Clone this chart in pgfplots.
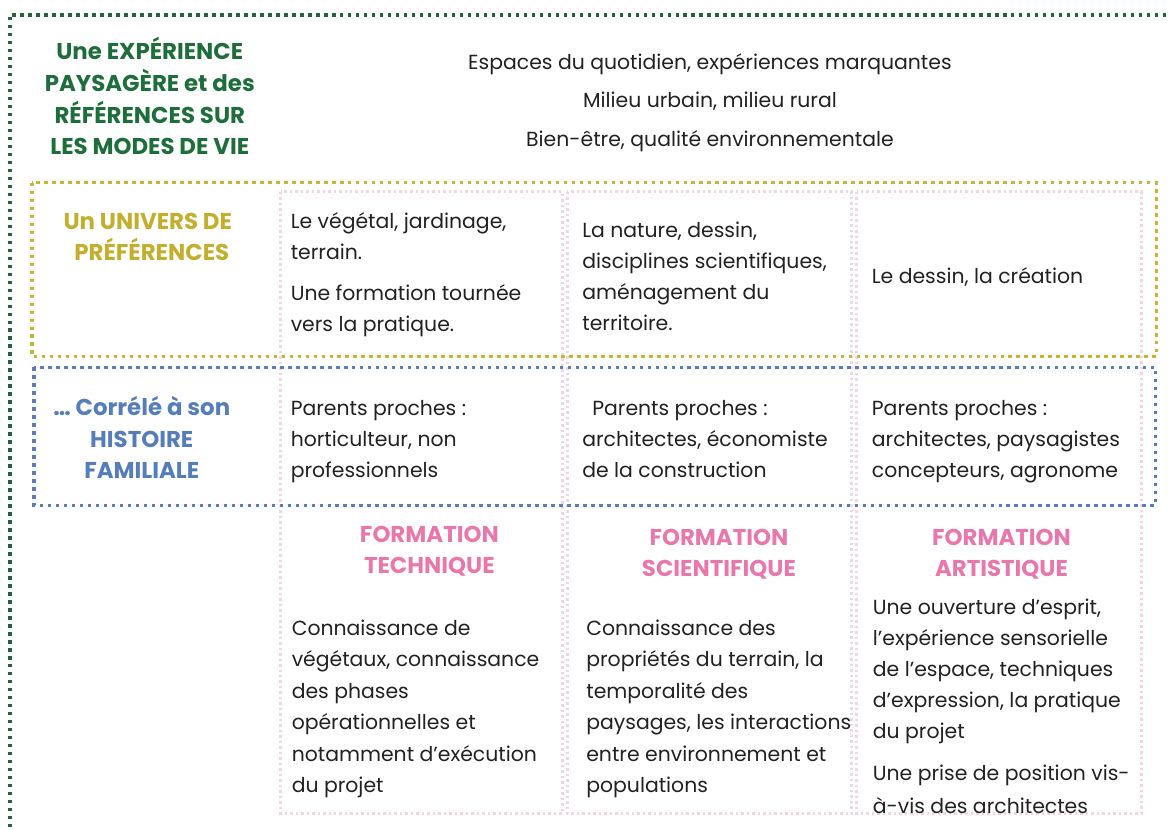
\documentclass[border=0pt]{standalone}
\usepackage{pgfplots}
\pgfplotsset{compat=1.18}
\usepackage{fontspec}
\setmainfont{Poppins}
\definecolor{gline}{RGB}{35,100,60}
\definecolor{gtext}{RGB}{30,110,60}
\definecolor{yline}{RGB}{200,180,55}
\definecolor{ytext}{RGB}{195,175,45}
\definecolor{bline}{RGB}{90,125,185}
\definecolor{btext}{RGB}{85,125,185}
\definecolor{pline}{RGB}{242,212,228}
\definecolor{ptext}{RGB}{232,120,172}
\definecolor{body}{RGB}{35,32,32}
\newcommand{\T}[3]{\node[anchor=mid west, inner sep=0pt, yshift=-4bp, text=body, font=\fontsize{20.5}{24}\selectfont] at (axis cs:#1,#2) {#3};}
\newcommand{\C}[4]{\node[anchor=mid, inner sep=0pt, yshift=-4bp, text=#4, font=\fontsize{20.5}{24}\selectfont] at (axis cs:#1,#2) {#3};}
\newcommand{\B}[4]{\node[anchor=mid, inner sep=0pt, yshift=-5bp, text=#4, font=\fontsize{23}{27}\selectfont\bfseries] at (axis cs:#1,#2) {#3};}
\begin{document}
\begin{tikzpicture}
\begin{axis}[
  width=1168bp, height=829bp, scale only axis,
  xmin=0, xmax=1168, ymin=0, ymax=829, y dir=reverse,
  hide axis, clip=false]
\path (axis cs:0,0) rectangle (axis cs:1168,829);
% pink columns
\begin{scope}[pline, line width=3bp, dash pattern=on 2.5bp off 3bp]
\draw (axis cs:281,192) rectangle (axis cs:563,815);
\draw (axis cs:568,192) rectangle (axis cs:853,815);
\draw (axis cs:858,192) rectangle (axis cs:1143,815);
\end{scope}
% green frame
\draw[gline, line width=3.5bp, dash pattern=on 3.5bp off 4.5bp] (axis cs:1168,15) -- (axis cs:10,15) -- (axis cs:10,829);
% yellow frame
\draw[yline, line width=3.5bp, dash pattern=on 3.5bp off 4.5bp] (axis cs:32,183) rectangle (axis cs:1158,357);
% blue frame
\draw[bline, line width=3.5bp, dash pattern=on 3.5bp off 4.5bp] (axis cs:34,368) rectangle (axis cs:1157,506);
% green title
\B{150}{52}{Une EXPÉRIENCE}{gtext}
\B{150}{84}{PAYSAGÈRE et des}{gtext}
\B{150}{116}{RÉFÉRENCES SUR}{gtext}
\B{150}{147}{LES MODES DE VIE}{gtext}
% header
\C{711}{63}{Espaces du quotidien, expériences marquantes}{body}
\C{711}{101}{Milieu urbain, milieu rural}{body}
\C{711}{140}{Bien-être, qualité environnementale}{body}
% yellow title
\B{148}{222}{Un UNIVERS DE}{ytext}
\B{152}{253}{PRÉFÉRENCES}{ytext}
% row 1
\T{291}{222}{Le végétal, jardinage,}
\T{291}{253}{terrain.}
\T{291}{294}{Une formation tournée}
\T{291}{325}{vers la pratique.}
\T{583}{231}{La nature, dessin,}
\T{583}{262}{disciplines scientifiques,}
\T{583}{293}{aménagement du}
\T{583}{324}{territoire.}
\T{873}{277}{Le dessin, la création}
% blue title
\B{142}{408}{… Corrélé à son}{btext}
\B{142}{440}{HISTOIRE}{btext}
\B{142}{471}{FAMILIALE}{btext}
% row 2
\T{291}{409}{Parents proches :}
\T{291}{440}{horticulteur, non}
\T{291}{471}{professionnels}
\T{593}{409}{Parents proches :}
\T{583}{440}{architectes, économiste}
\T{583}{471}{de la construction}
\T{873}{409}{Parents proches :}
\T{873}{440}{architectes, paysagistes}
\T{873}{471}{concepteurs, agronome}
% pink titles
\B{430}{536}{FORMATION}{ptext}
\B{430}{567}{TECHNIQUE}{ptext}
\B{720}{539}{FORMATION}{ptext}
\B{720}{570}{SCIENTIFIQUE}{ptext}
\B{1003}{539}{FORMATION}{ptext}
\B{1003}{570}{ARTISTIQUE}{ptext}
% body col1
\T{292}{630}{Connaissance de}
\T{292}{661}{végétaux, connaissance}
\T{292}{693}{des phases}
\T{292}{724}{opérationnelles et}
\T{292}{756}{notamment d’exécution}
\T{292}{787}{du projet}
% body col2
\T{587}{630}{Connaissance des}
\T{587}{661}{propriétés du terrain, la}
\T{587}{693}{temporalité des}
\T{587}{724}{paysages, les interactions}
\T{587}{756}{entre environnement et}
\T{587}{787}{populations}
% body col3
\T{874}{609}{Une ouverture d’esprit,}
\T{874}{640}{l’expérience sensorielle}
\T{874}{671}{de l’espace, techniques}
\T{874}{702}{d’expression, la pratique}
\T{874}{733}{du projet}
\T{874}{775}{Une prise de position vis-}
\T{874}{808}{à-vis des architectes}
\end{axis}
\end{tikzpicture}
\end{document}
